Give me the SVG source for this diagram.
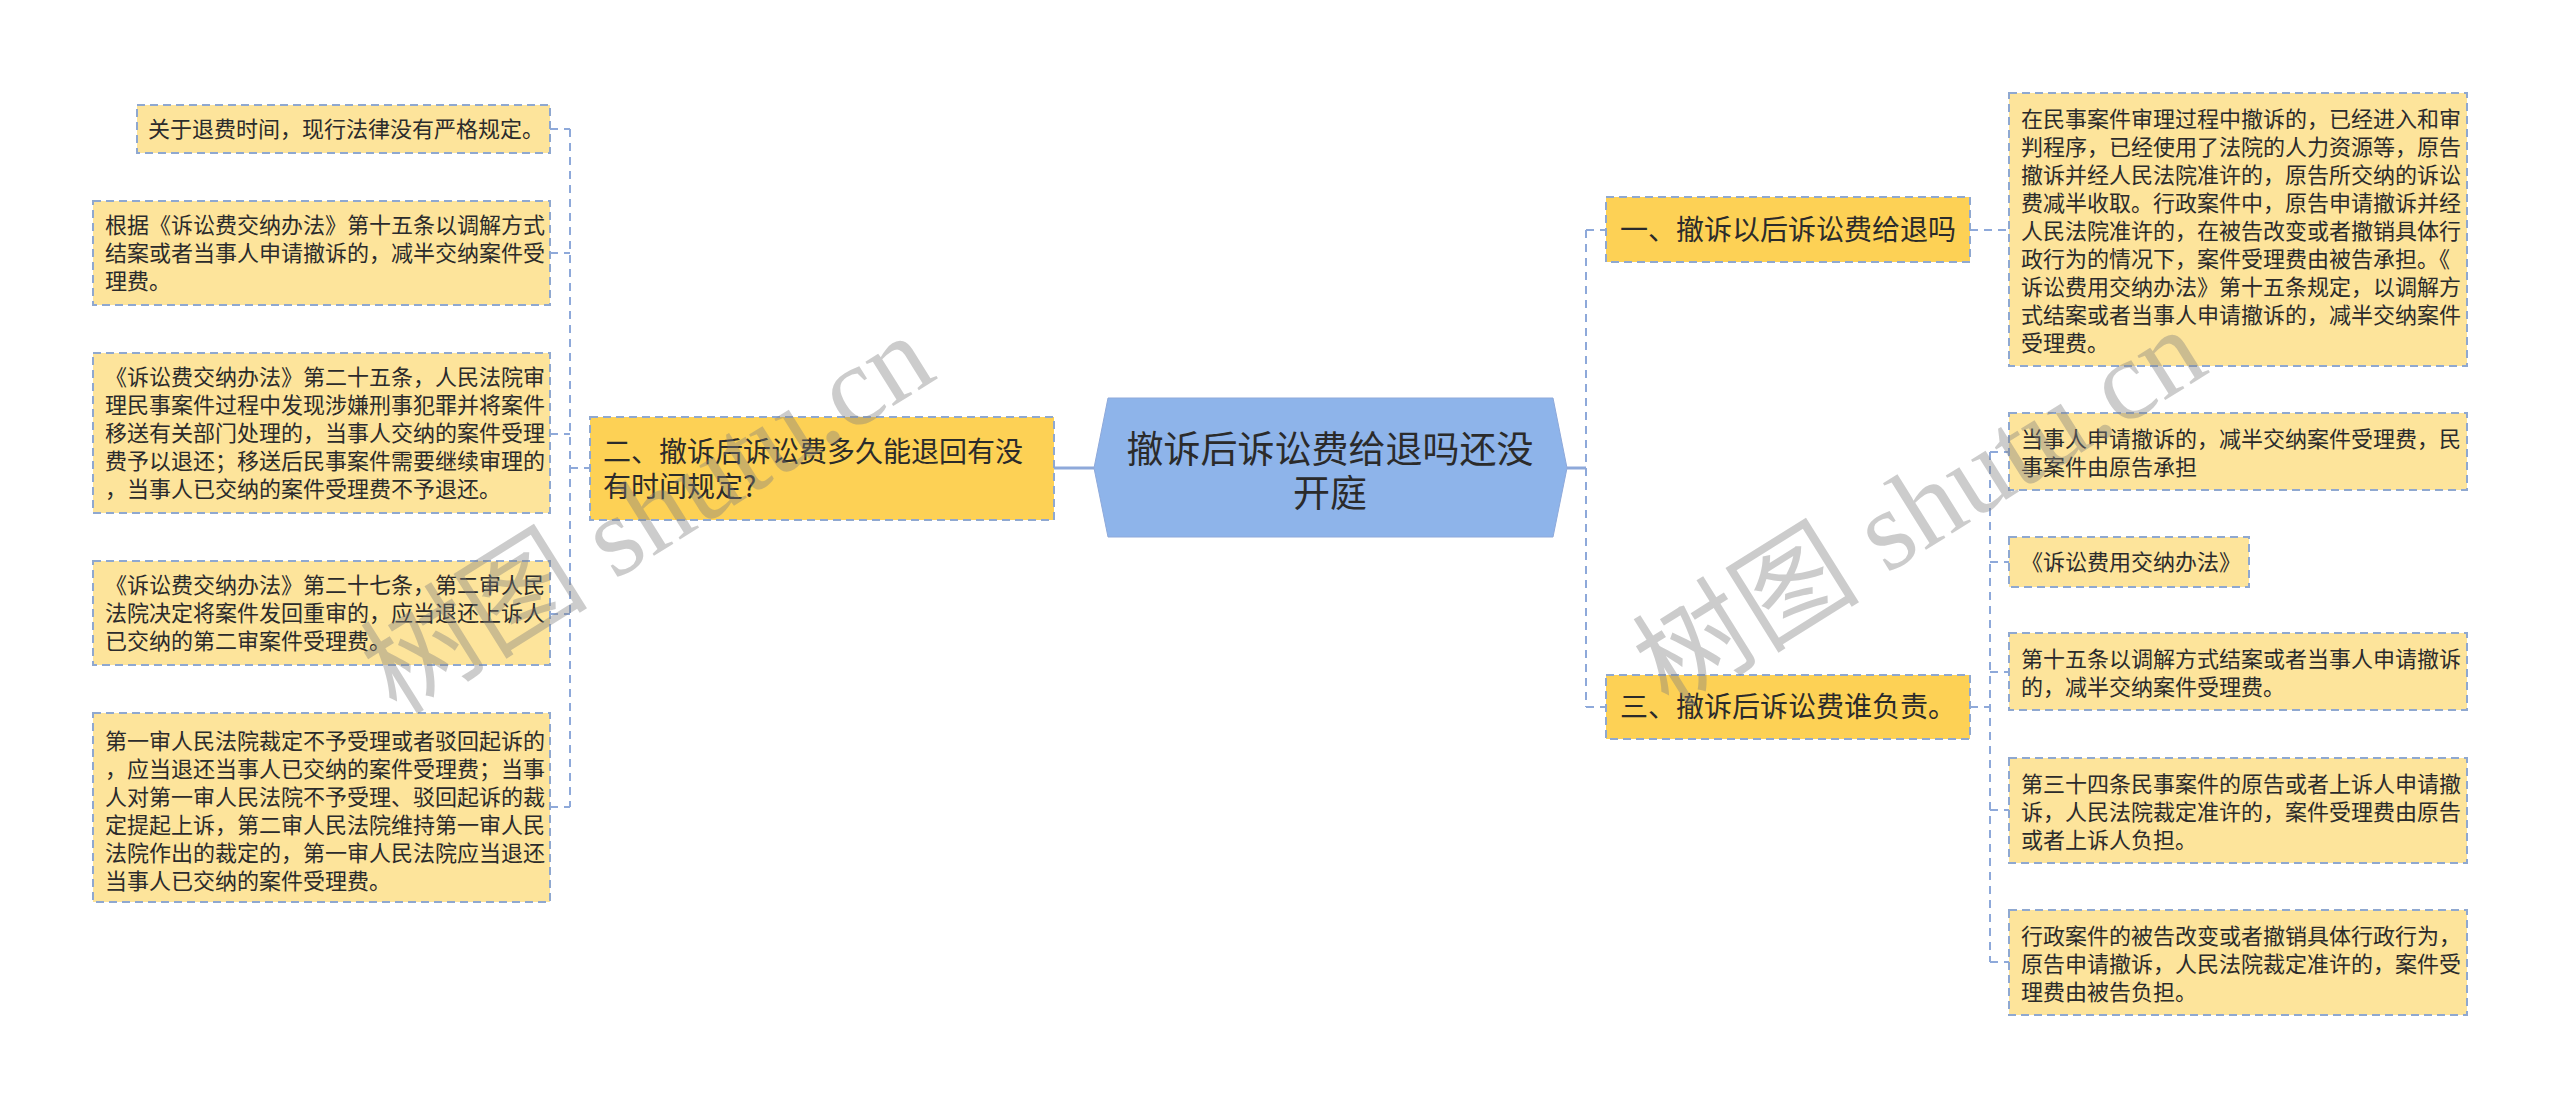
<svg xmlns="http://www.w3.org/2000/svg" width="2560" height="1109" viewBox="0 0 2560 1109">
<style>
text{font-family:"Noto Sans CJK SC","Noto Sans",sans-serif;fill:#2b2b2b}
.leaf rect{fill:#FDE49B;stroke:#8FA8D0;stroke-width:2;stroke-dasharray:8 5}
.main rect{fill:#FDD155;stroke:#8FA8D0;stroke-width:2;stroke-dasharray:8 5}
.leaf text{font-size:22px}
.main text{font-size:28px}
.conn line{stroke:#8EA9DA;stroke-width:2;stroke-dasharray:8 6}
.conn line.solid{stroke-width:3;stroke-dasharray:none}
.wm{font-family:"Liberation Serif","Noto Sans CJK SC",serif;font-size:114px;fill:#808080;fill-opacity:0.4}
</style>
<rect width="2560" height="1109" fill="#ffffff"/>
<g id="connectors" class="conn">
<line class="solid" x1="1054" y1="468" x2="1094" y2="468"/>
<line class="solid" x1="1567" y1="468" x2="1586" y2="468"/>
<line x1="570" y1="129" x2="570" y2="807"/>
<line x1="570" y1="468" x2="590" y2="468"/>
<line x1="550" y1="129" x2="570" y2="129"/>
<line x1="550" y1="253" x2="570" y2="253"/>
<line x1="550" y1="434" x2="570" y2="434"/>
<line x1="550" y1="614" x2="570" y2="614"/>
<line x1="550" y1="807" x2="570" y2="807"/>
<line x1="1586" y1="230" x2="1586" y2="707"/>
<line x1="1586" y1="230" x2="1606" y2="230"/>
<line x1="1586" y1="707" x2="1606" y2="707"/>
<line x1="1970" y1="230" x2="2009" y2="230"/>
<line x1="1970" y1="707" x2="1990" y2="707"/>
<line x1="1990" y1="452" x2="1990" y2="962"/>
<line x1="1990" y1="452" x2="2009" y2="452"/>
<line x1="1990" y1="562" x2="2009" y2="562"/>
<line x1="1990" y1="672" x2="2009" y2="672"/>
<line x1="1990" y1="810" x2="2009" y2="810"/>
<line x1="1990" y1="962" x2="2009" y2="962"/>
</g>
<g id="center">
<polygon points="1108,398 1553,398 1567,468 1553,537 1108,537 1094,468" fill="#8EB4EA" stroke="#8EA9DA" stroke-width="1"/>
<text x="1330" y="463" text-anchor="middle" style="font-size:37px">撤诉后诉讼费给退吗还没</text>
<text x="1330" y="507" text-anchor="middle" style="font-size:37px">开庭</text>
</g>
<g id="node2" class="main">
<rect x="590" y="417" width="464" height="103"/>
<text x="603" y="462">二、撤诉后诉讼费多久能退回有没</text>
<text x="603" y="497">有时间规定?</text>
</g>
<g id="node1" class="main">
<rect x="1606" y="197" width="364" height="65"/>
<text x="1620" y="240">一、撤诉以后诉讼费给退吗</text>
</g>
<g id="node3" class="main">
<rect x="1606" y="675" width="364" height="64"/>
<text x="1620" y="717">三、撤诉后诉讼费谁负责。</text>
</g>
<g id="leafL1" class="leaf">
<rect x="137" y="105" width="413" height="48"/>
<text x="148" y="137">关于退费时间，现行法律没有严格规定。</text>
</g>
<g id="leafL2" class="leaf">
<rect x="93" y="201" width="457" height="104"/>
<text x="105" y="233">根据《诉讼费交纳办法》第十五条以调解方式</text>
<text x="105" y="261">结案或者当事人申请撤诉的，减半交纳案件受</text>
<text x="105" y="289">理费。</text>
</g>
<g id="leafL3" class="leaf">
<rect x="93" y="353" width="457" height="160"/>
<text x="105" y="385">《诉讼费交纳办法》第二十五条，人民法院审</text>
<text x="105" y="413">理民事案件过程中发现涉嫌刑事犯罪并将案件</text>
<text x="105" y="441">移送有关部门处理的，当事人交纳的案件受理</text>
<text x="105" y="469">费予以退还；移送后民事案件需要继续审理的</text>
<text x="105" y="497">，当事人已交纳的案件受理费不予退还。</text>
</g>
<g id="leafL4" class="leaf">
<rect x="93" y="561" width="457" height="104"/>
<text x="105" y="593">《诉讼费交纳办法》第二十七条，第二审人民</text>
<text x="105" y="621">法院决定将案件发回重审的，应当退还上诉人</text>
<text x="105" y="649">已交纳的第二审案件受理费。</text>
</g>
<g id="leafL5" class="leaf">
<rect x="93" y="713" width="457" height="189"/>
<text x="105" y="749">第一审人民法院裁定不予受理或者驳回起诉的</text>
<text x="105" y="777">，应当退还当事人已交纳的案件受理费；当事</text>
<text x="105" y="805">人对第一审人民法院不予受理、驳回起诉的裁</text>
<text x="105" y="833">定提起上诉，第二审人民法院维持第一审人民</text>
<text x="105" y="861">法院作出的裁定的，第一审人民法院应当退还</text>
<text x="105" y="889">当事人已交纳的案件受理费。</text>
</g>
<g id="leafR1" class="leaf">
<rect x="2009" y="93" width="458" height="273"/>
<text x="2021" y="127">在民事案件审理过程中撤诉的，已经进入和审</text>
<text x="2021" y="155">判程序，已经使用了法院的人力资源等，原告</text>
<text x="2021" y="183">撤诉并经人民法院准许的，原告所交纳的诉讼</text>
<text x="2021" y="211">费减半收取。行政案件中，原告申请撤诉并经</text>
<text x="2021" y="239">人民法院准许的，在被告改变或者撤销具体行</text>
<text x="2021" y="267">政行为的情况下，案件受理费由被告承担。《</text>
<text x="2021" y="295">诉讼费用交纳办法》第十五条规定，以调解方</text>
<text x="2021" y="323">式结案或者当事人申请撤诉的，减半交纳案件</text>
<text x="2021" y="351">受理费。</text>
</g>
<g id="leafR2" class="leaf">
<rect x="2009" y="413" width="458" height="77"/>
<text x="2021" y="447">当事人申请撤诉的，减半交纳案件受理费，民</text>
<text x="2021" y="475">事案件由原告承担</text>
</g>
<g id="leafR3" class="leaf">
<rect x="2009" y="537" width="240" height="50"/>
<text x="2021" y="570">《诉讼费用交纳办法》</text>
</g>
<g id="leafR4" class="leaf">
<rect x="2009" y="633" width="458" height="77"/>
<text x="2021" y="667">第十五条以调解方式结案或者当事人申请撤诉</text>
<text x="2021" y="695">的，减半交纳案件受理费。</text>
</g>
<g id="leafR5" class="leaf">
<rect x="2009" y="758" width="458" height="105"/>
<text x="2021" y="792">第三十四条民事案件的原告或者上诉人申请撤</text>
<text x="2021" y="820">诉，人民法院裁定准许的，案件受理费由原告</text>
<text x="2021" y="848">或者上诉人负担。</text>
</g>
<g id="leafR6" class="leaf">
<rect x="2009" y="910" width="458" height="105"/>
<text x="2021" y="944">行政案件的被告改变或者撤销具体行政行为，</text>
<text x="2021" y="972">原告申请撤诉，人民法院裁定准许的，案件受</text>
<text x="2021" y="1000">理费由被告负担。</text>
</g>
<g id="watermarks">
<text class="wm" x="650" y="552" text-anchor="middle" transform="rotate(-32 650 518)">树图 shutu.cn</text>
<text class="wm" x="1922" y="546" text-anchor="middle" transform="rotate(-32 1922 512)">树图 shutu.cn</text>
</g>
</svg>
